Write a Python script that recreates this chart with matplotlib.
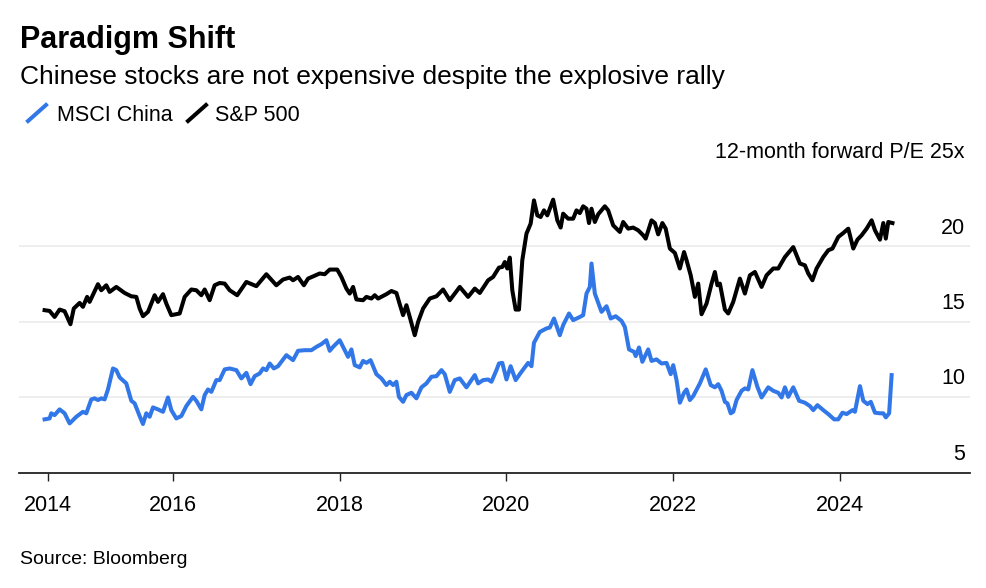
import matplotlib
matplotlib.use("Agg")
import matplotlib.pyplot as plt
from matplotlib.lines import Line2D

plt.rcParams["font.family"] = ["Liberation Sans", "DejaVu Sans"]

# 12-month forward P/E, dates as decimal years
sp_dates = [2014.46, 2014.52, 2014.58, 2014.64, 2014.70, 2014.77, 2014.81, 2014.88, 2014.92, 2014.97,
            2015.00, 2015.10, 2015.14, 2015.20, 2015.24, 2015.32, 2015.42, 2015.50, 2015.56, 2015.60,
            2015.64, 2015.70, 2015.78, 2015.82, 2015.88, 2015.92, 2015.98, 2016.08, 2016.14, 2016.22,
            2016.28, 2016.34, 2016.38, 2016.44, 2016.50, 2016.56, 2016.62, 2016.68, 2016.77, 2016.88,
            2017.00, 2017.12, 2017.24, 2017.32, 2017.40, 2017.44, 2017.50, 2017.57, 2017.62, 2017.76,
            2017.82, 2017.88, 2017.97, 2018.02, 2018.08, 2018.12, 2018.16, 2018.20, 2018.28, 2018.32,
            2018.38, 2018.42, 2018.46, 2018.56, 2018.62, 2018.68, 2018.72, 2018.76, 2018.80, 2018.84,
            2018.90, 2018.94, 2019.00, 2019.08, 2019.16, 2019.24, 2019.32, 2019.44, 2019.54, 2019.62,
            2019.68, 2019.78, 2019.84, 2019.91, 2019.95, 2019.98, 2020.01, 2020.04, 2020.07, 2020.11,
            2020.15, 2020.19, 2020.24, 2020.29, 2020.33, 2020.37, 2020.41, 2020.45, 2020.49, 2020.56,
            2020.61, 2020.65, 2020.68, 2020.74, 2020.80, 2020.84, 2020.88, 2020.92, 2020.96, 2020.99,
            2021.02, 2021.06, 2021.10, 2021.18, 2021.22, 2021.28, 2021.32, 2021.36, 2021.40, 2021.46,
            2021.52, 2021.58, 2021.64, 2021.67, 2021.74, 2021.78, 2021.82, 2021.87, 2021.91, 2021.96,
            2022.02, 2022.08, 2022.13, 2022.16, 2022.21, 2022.26, 2022.30, 2022.34, 2022.40, 2022.46,
            2022.50, 2022.53, 2022.56, 2022.62, 2022.66, 2022.72, 2022.80, 2022.86, 2022.92, 2022.98,
            2023.06, 2023.12, 2023.20, 2023.26, 2023.34, 2023.44, 2023.52, 2023.58, 2023.62, 2023.67,
            2023.72, 2023.80, 2023.86, 2023.91, 2023.98, 2024.04, 2024.10, 2024.16, 2024.21, 2024.26,
            2024.32, 2024.38, 2024.42, 2024.48, 2024.52, 2024.55, 2024.58, 2024.63]
sp_pe = [15.75, 15.70, 15.30, 15.79, 15.68, 14.82, 15.86, 16.23, 15.97, 16.63,
         16.30, 17.47, 17.07, 17.40, 16.96, 17.29, 16.89, 16.67, 16.63, 15.86,
         15.35, 15.64, 16.74, 16.30, 16.81, 16.19, 15.42, 15.53, 16.63, 17.12,
         17.07, 16.74, 17.12, 16.41, 17.40, 17.55, 17.51, 17.07, 16.74, 17.62,
         17.34, 18.13, 17.40, 17.78, 17.91, 17.73, 17.95, 17.40, 17.84, 18.18,
         18.13, 18.44, 18.44, 17.95, 17.18, 16.85, 17.29, 16.46, 16.41, 16.63,
         16.52, 16.74, 16.52, 16.81, 17.02, 16.89, 16.14, 15.42, 16.08, 15.30,
         14.09, 14.97, 15.86, 16.52, 16.67, 17.12, 16.41, 17.29, 16.63, 17.18,
         16.89, 17.73, 17.95, 18.57, 18.61, 18.94, 18.51, 19.23, 17.07, 15.79,
         15.79, 19.06, 20.82, 21.48, 23.02, 22.03, 21.92, 22.36, 22.03, 23.07,
         21.70, 21.22, 22.14, 21.81, 21.81, 22.36, 22.18, 22.63, 22.47, 21.52,
         22.47, 21.59, 22.10, 22.63, 22.36, 21.37, 21.15, 20.93, 21.59, 21.15,
         21.22, 21.04, 20.71, 20.49, 21.70, 21.52, 20.77, 21.52, 21.15, 19.83,
         19.54, 18.51, 19.60, 19.06, 18.06, 16.63, 17.51, 15.48, 16.19, 17.51,
         18.28, 17.40, 17.51, 15.79, 15.53, 16.30, 17.84, 16.85, 18.06, 18.28,
         17.29, 18.06, 18.51, 18.51, 19.27, 19.93, 18.84, 18.72, 18.18, 17.73,
         18.51, 19.27, 19.72, 19.83, 20.60, 20.86, 21.15, 19.83, 20.42, 20.71,
         21.15, 21.70, 21.04, 20.42, 21.52, 20.49, 21.59, 21.52]

china_dates = [2014.46, 2014.52, 2014.54, 2014.58, 2014.64, 2014.70, 2014.76, 2014.84, 2014.92, 2014.96,
               2015.02, 2015.06, 2015.10, 2015.14, 2015.18, 2015.22, 2015.28, 2015.32, 2015.36, 2015.44,
               2015.50, 2015.54, 2015.60, 2015.64, 2015.68, 2015.72, 2015.76, 2015.82, 2015.88, 2015.94,
               2015.98, 2016.04, 2016.10, 2016.16, 2016.24, 2016.28, 2016.34, 2016.38, 2016.42, 2016.46,
               2016.52, 2016.56, 2016.62, 2016.68, 2016.76, 2016.82, 2016.88, 2016.93, 2016.98, 2017.04,
               2017.08, 2017.12, 2017.16, 2017.21, 2017.26, 2017.36, 2017.44, 2017.50, 2017.58, 2017.66,
               2017.72, 2017.78, 2017.84, 2017.88, 2017.92, 2018.00, 2018.04, 2018.10, 2018.14, 2018.18,
               2018.24, 2018.28, 2018.32, 2018.37, 2018.44, 2018.50, 2018.56, 2018.60, 2018.64, 2018.68,
               2018.71, 2018.76, 2018.80, 2018.86, 2018.92, 2018.98, 2019.04, 2019.10, 2019.16, 2019.22,
               2019.26, 2019.32, 2019.38, 2019.44, 2019.52, 2019.62, 2019.66, 2019.72, 2019.78, 2019.82,
               2019.88, 2019.91, 2019.95, 2020.00, 2020.05, 2020.11, 2020.18, 2020.26, 2020.30, 2020.33,
               2020.40, 2020.48, 2020.52, 2020.57, 2020.64, 2020.68, 2020.75, 2020.80, 2020.88, 2020.92,
               2020.96, 2021.00, 2021.02, 2021.06, 2021.14, 2021.20, 2021.25, 2021.31, 2021.38, 2021.42,
               2021.47, 2021.53, 2021.55, 2021.59, 2021.63, 2021.70, 2021.74, 2021.80, 2021.86, 2021.92,
               2021.97, 2022.00, 2022.04, 2022.08, 2022.13, 2022.16, 2022.20, 2022.24, 2022.32, 2022.39,
               2022.45, 2022.50, 2022.54, 2022.58, 2022.62, 2022.65, 2022.69, 2022.72, 2022.76, 2022.82,
               2022.86, 2022.90, 2022.95, 2023.01, 2023.06, 2023.14, 2023.20, 2023.26, 2023.30, 2023.34,
               2023.38, 2023.44, 2023.51, 2023.58, 2023.64, 2023.68, 2023.73, 2023.80, 2023.86, 2023.93,
               2023.98, 2024.03, 2024.08, 2024.15, 2024.18, 2024.24, 2024.28, 2024.33, 2024.37, 2024.42,
               2024.48, 2024.52, 2024.55, 2024.59, 2024.62]
china_pe = [8.52, 8.58, 8.92, 8.80, 9.18, 8.92, 8.25, 8.69, 9.02, 8.92,
            9.84, 9.91, 9.80, 9.91, 9.84, 10.50, 11.89, 11.78, 11.30, 10.90,
            9.75, 9.58, 8.74, 8.21, 8.92, 8.69, 9.31, 9.18, 9.02, 9.97,
            9.13, 8.58, 8.74, 9.40, 10.01, 9.75, 9.18, 10.13, 10.50, 10.34,
            11.12, 11.12, 11.83, 11.89, 11.78, 11.23, 11.60, 10.85, 11.38, 11.56,
            11.89, 11.78, 12.22, 11.89, 12.04, 12.77, 12.44, 13.06, 13.10, 13.10,
            13.32, 13.50, 13.76, 13.06, 13.32, 13.76, 13.32, 12.66, 13.15, 12.11,
            11.96, 12.39, 12.26, 12.44, 11.51, 11.23, 10.79, 11.01, 10.79, 11.01,
            10.01, 9.68, 10.13, 10.28, 9.91, 10.64, 10.90, 11.34, 11.38, 11.78,
            11.51, 10.34, 11.12, 11.23, 10.64, 11.45, 10.90, 11.12, 11.16, 11.01,
            11.78, 12.22, 12.26, 11.16, 12.04, 11.12, 11.67, 12.26, 12.04, 13.59,
            14.31, 14.54, 14.60, 15.20, 14.09, 14.76, 15.53, 15.09, 15.30, 15.42,
            16.85, 17.29, 18.84, 16.85, 15.64, 16.01, 15.20, 15.35, 15.04, 14.64,
            13.15, 12.99, 12.71, 13.28, 12.33, 13.15, 12.39, 12.49, 12.22, 12.26,
            11.51, 12.11, 11.12, 9.62, 10.28, 10.50, 9.80, 10.06, 10.90, 11.83,
            10.79, 10.64, 10.85, 10.41, 9.68, 9.58, 8.92, 9.02, 9.80, 10.41,
            10.57, 10.50, 11.78, 10.67, 9.97, 10.64, 10.41, 10.28, 9.97, 10.64,
            10.01, 10.64, 9.75, 9.62, 9.40, 9.13, 9.46, 9.13, 8.87, 8.52,
            8.52, 8.96, 8.87, 9.13, 9.02, 10.72, 9.75, 9.53, 9.68, 8.96,
            8.92, 8.92, 8.65, 8.92, 11.45]

year_ticks = [2014.5, 2016, 2018, 2020, 2022, 2024]
year_labels = ["2014", "2016", "2018", "2020", "2022", "2024"]
pe_grid = [10, 15, 20, 25]
pe_labels = ["5", "10", "15", "20", "12-month forward P/E 25x"]

BLUE = "#3177e8"
W, H = 986, 588

fig = plt.figure(figsize=(W / 100, H / 100), dpi=100)
ax = fig.add_axes([19 / W, 1 - 472.5 / H, (970 - 19) / W, (472.5 - 170.5) / H])

ax.plot(sp_dates, sp_pe, color="black", lw=2.9, solid_joinstyle="round", zorder=3)
ax.plot(china_dates, china_pe, color=BLUE, lw=2.9, solid_joinstyle="round", zorder=3)

ax.set_xlim(2014.153, 2025.56)
ax.set_ylim(5, 25)

for s in ["top", "right", "left"]:
    ax.spines[s].set_visible(False)
ax.spines["bottom"].set_color("#222222")
ax.spines["bottom"].set_linewidth(1.3)

ax.set_yticks(pe_grid)
ax.tick_params(axis="y", length=0, labelleft=False)
ax.grid(axis="y", color="#ebebeb", lw=1.2)
ax.set_axisbelow(True)

ax.set_xticks(year_ticks)
ax.set_xticklabels(year_labels, fontsize=15.5)
ax.tick_params(axis="x", length=6, width=1, color="#222222", pad=10)

# right side labels, sitting above the gridlines
for val, lab in zip([5] + pe_grid, pe_labels):
    ax.annotate(lab, xy=(0.9947, val), xycoords=ax.get_yaxis_transform(),
                xytext=(0, 9), textcoords="offset points",
                ha="right", va="baseline", fontsize=15.5)

fig.text(20 / W, 1 - 48 / H, "Paradigm Shift", fontsize=22, fontweight="bold", va="baseline")
fig.text(20 / W, 1 - 84 / H, "Chinese stocks are not expensive despite the explosive rally",
         fontsize=19, va="baseline")

# legend with slanted line keys
fig.add_artist(Line2D([28 / W, 46 / W], [1 - 121 / H, 1 - 105 / H], color=BLUE, lw=2.9))
fig.text(57 / W, 1 - 121 / H, "MSCI China", fontsize=15.5, va="baseline")
fig.add_artist(Line2D([188 / W, 206 / W], [1 - 121 / H, 1 - 105 / H], color="black", lw=2.9))
fig.text(215 / W, 1 - 121 / H, "S&P 500", fontsize=15.5, va="baseline")

fig.text(20 / W, 1 - 564 / H, "Source: Bloomberg", fontsize=14, va="baseline")

fig.savefig("out.png", dpi=100)
